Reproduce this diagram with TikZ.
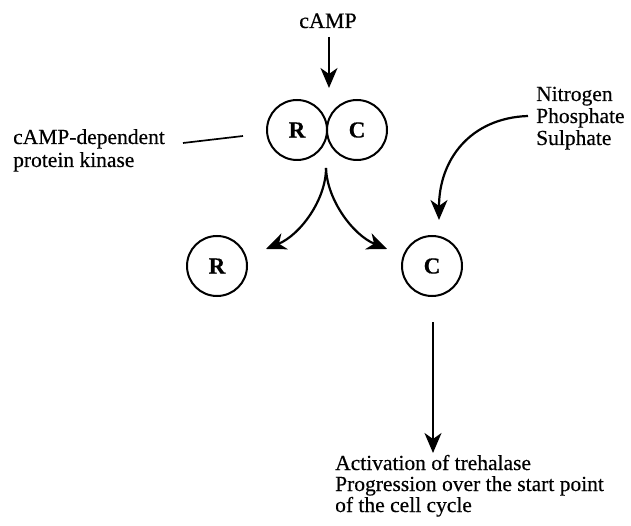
\documentclass[tikz,border=0pt]{standalone}
\usepackage{fontspec}
\setmainfont{Liberation Serif}[FakeBold=0.4]
\usetikzlibrary{arrows.meta}
\begin{document}
\begin{tikzpicture}[x=1pt,y=-1pt,
  lbl/.style={anchor=base west,inner sep=0pt,font=\fontsize{21.5}{23}\selectfont},
  sub/.style={circle,draw,line width=2pt,minimum size=60pt,inner sep=0pt,font=\fontsize{23}{24}\selectfont\bfseries},
  arr/.style={line width=2.2pt,-{Stealth[length=20pt,width=17pt,inset=6pt]}}]
\useasboundingbox (0,0) rectangle (631,526);
% cAMP
\node[anchor=base,inner sep=0pt,font=\fontsize{22}{23}\selectfont] (camp) at (328,28) {cAMP};
\coordinate (campA) at (329,37);
\coordinate (campB) at (329,88);
\draw[arr] (campA) -- (campB);
% holoenzyme
\node[sub] (R1) at (297,130) {R};
\node[sub] (C1) at (357,130) {C};
% kinase label
\node[lbl] (k1) at (13,144) {cAMP-dependent};
\node[lbl] (k2) at (13,167) {protein kinase};
\coordinate (kA) at (183,143);
\coordinate (kB) at (243,136);
\draw[line width=1.7pt] (kA) -- (kB);
% split
\coordinate (split) at (326,168);
\coordinate (tipL) at (266,249);
\coordinate (tipR) at (387,249);
\draw[arr] (split) .. controls (326,200) and (300,235) .. (tipL);
\draw[arr] (split) .. controls (327,200) and (353,235) .. (tipR);
% free subunits
\node[sub] (R2) at (217,266) {R};
\node[sub] (C2) at (432,266) {C};
% nutrients
\node[lbl] (n1) at (536,101) {Nitrogen};
\node[lbl] (n2) at (536,123) {Phosphate};
\node[lbl] (n3) at (536,145) {Sulphate};
\coordinate (nA) at (528,116);
\coordinate (nB) at (439,220);
\draw[arr] (nA) .. controls (470,118) and (439,160) .. (nB);
% outcome
\coordinate (oA) at (433,322);
\coordinate (oB) at (433,453);
\draw[arr] (oA) -- (oB);
\node[lbl] (o1) at (335,470) {Activation of trehalase};
\node[lbl] (o2) at (335,491) {Progression over the start point};
\node[lbl] (o3) at (335,512) {of the cell cycle};
\end{tikzpicture}
\end{document}
